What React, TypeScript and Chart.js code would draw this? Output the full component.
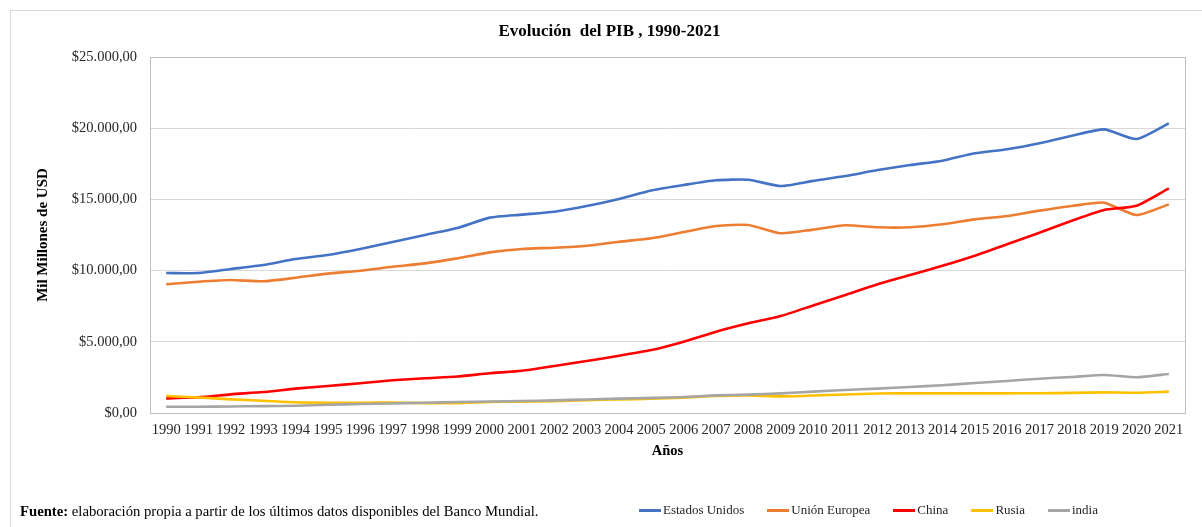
import React, { useEffect, useRef } from "react";
import { Chart, registerables } from "chart.js";

Chart.register(...registerables);

const years = [
  "1990", "1991", "1992", "1993", "1994", "1995", "1996", "1997", "1998", "1999",
  "2000", "2001", "2002", "2003", "2004", "2005", "2006", "2007", "2008", "2009",
  "2010", "2011", "2012", "2013", "2014", "2015", "2016", "2017", "2018", "2019",
  "2020", "2021",
];

const estadosUnidos = [
  9830, 9830, 10110, 10390, 10810, 11100, 11520, 12010, 12500, 12990,
  13720, 13930, 14130, 14530, 15030, 15620, 16010, 16340, 16380, 15940,
  16300, 16640, 17060, 17410, 17720, 18240, 18520, 18940, 19470, 19920,
  19240, 20340,
];

const unionEuropea = [
  9040, 9220, 9340, 9250, 9500, 9790, 9990, 10270, 10510, 10860,
  11280, 11520, 11610, 11750, 12030, 12270, 12710, 13130, 13200, 12620,
  12880, 13180, 13040, 13040, 13250, 13600, 13830, 14210, 14540, 14770,
  13900, 14650,
];

const china = [
  1030, 1110, 1310, 1470, 1710, 1900, 2090, 2300, 2440, 2560,
  2790, 2970, 3300, 3650, 4020, 4420, 5010, 5710, 6300, 6810,
  7550, 8290, 9040, 9690, 10340, 11050, 11850, 12660, 13500, 14260,
  14560, 15780,
];

const rusia = [
  1190, 1090, 960, 860, 750, 720, 720, 740, 690, 690,
  770, 800, 830, 900, 950, 1000, 1080, 1200, 1240, 1170,
  1230, 1300, 1370, 1380, 1380, 1380, 1380, 1390, 1410, 1450,
  1420, 1500,
];

const india = [
  440, 440, 460, 480, 510, 580, 630, 670, 720, 770,
  810, 840, 890, 950, 1010, 1060, 1120, 1240, 1290, 1380,
  1500, 1620, 1710, 1830, 1950, 2110, 2250, 2410, 2530, 2670,
  2510, 2740,
];

const seriesNames = ["Estados Unidos", "Unión Europea", "China", "Rusia", "india"];
const seriesColors = ["#4472C4", "#ED7D31", "#FF0000", "#FFC000", "#A5A5A5"];
const seriesValues = [estadosUnidos, unionEuropea, china, rusia, india];

const titleText = "Evolución  del PIB , 1990-2021";
const yTitle = "Mil Millones de USD";
const xTitle = "Años";
const yMin = 0;
const yMax = 25000;
const yStep = 5000;

const FONT = "'Times New Roman', 'Liberation Serif', serif";

function formatMoney(v: number): string {
  const fixed = Math.abs(v).toFixed(2);
  const [intPart, dec] = fixed.split(".");
  const grouped = intPart.replace(/\B(?=(\d{3})+(?!\d))/g, ".");
  return "$" + grouped + "," + dec;
}

const plotBorder = {
  id: "plotBorder",
  beforeDatasetsDraw(chart: any) {
    const { ctx, chartArea } = chart;
    ctx.save();
    ctx.strokeStyle = "#bfbfbf";
    ctx.lineWidth = 1;
    ctx.strokeRect(
      Math.round(chartArea.left) + 0.5,
      Math.round(chartArea.top) + 0.5,
      Math.round(chartArea.right - chartArea.left),
      Math.round(chartArea.bottom - chartArea.top)
    );
    ctx.restore();
  },
};

export default function App() {
  const canvasRef = useRef<HTMLCanvasElement | null>(null);

  useEffect(() => {
    if (!canvasRef.current) return;
    const chart = new Chart(canvasRef.current, {
      type: "line",
      data: {
        labels: years,
        datasets: seriesNames.map((name, i) => ({
          label: name,
          data: seriesValues[i],
          borderColor: seriesColors[i],
          backgroundColor: seriesColors[i],
          borderWidth: 2.6,
          pointRadius: 0,
          pointHoverRadius: 0,
          tension: 0.2,
          fill: false,
          order: seriesNames.length - i,
        })),
      },
      options: {
        responsive: false,
        animation: false,
        layout: { padding: { top: 9, right: 17, bottom: 60, left: 24 } },
        plugins: {
          legend: { display: false },
          tooltip: { enabled: false },
          title: {
            display: true,
            text: titleText,
            color: "#000000",
            font: { family: FONT, size: 17, weight: "bold" },
            padding: { top: 2, bottom: 15.6 },
          },
        },
        scales: {
          x: {
            type: "category",
            offset: true,
            grid: { display: false, drawTicks: false },
            border: { display: false },
            ticks: {
              color: "#262626",
              font: { family: FONT, size: 14.5 },
              padding: 8,
              maxRotation: 0,
              autoSkip: false,
            },
            title: {
              display: true,
              text: xTitle,
              color: "#000000",
              font: { family: FONT, size: 14.5, weight: "bold" },
              padding: { top: 0, bottom: 7.3 },
            },
            afterFit(scale: any) {
              scale.height = 54;
            },
          },
          y: {
            min: yMin,
            max: yMax,
            grid: { color: "#d9d9d9", drawTicks: false, lineWidth: 1 },
            border: { display: false },
            ticks: {
              stepSize: yStep,
              color: "#262626",
              font: { family: FONT, size: 14.5 },
              padding: 13,
              callback: (v: any) => formatMoney(Number(v)),
            },
            title: {
              display: true,
              text: yTitle,
              color: "#000000",
              font: { family: FONT, size: 15, weight: "bold" },
              padding: { top: 0, bottom: 0 },
            },
            afterFit(scale: any) {
              scale.width = 116;
            },
          },
        },
      },
      plugins: [plotBorder],
    });
    return () => chart.destroy();
  }, []);

  return (
    <div
      style={{
        position: "fixed",
        left: 0,
        top: 0,
        width: 1202,
        height: 527,
        overflow: "hidden",
        background: "#ffffff",
        fontFamily: FONT,
      }}
    >
      <div
        style={{
          position: "absolute",
          left: 10,
          top: 10,
          width: 1220,
          height: 560,
          border: "1px solid #d9d9d9",
          boxSizing: "border-box",
        }}
      />
      <canvas
        ref={canvasRef}
        width={1192}
        height={517}
        style={{ position: "absolute", left: 10, top: 10, width: 1192, height: 517 }}
      />
      <div
        style={{
          position: "absolute",
          left: 20,
          top: 502,
          fontSize: 14.7,
          lineHeight: "18px",
          color: "#000000",
          whiteSpace: "nowrap",
        }}
      >
        <b>Fuente:</b> elaboración propia a partir de los últimos datos disponibles del Banco Mundial.
      </div>
      <div
        style={{
          position: "absolute",
          left: 639,
          top: 501,
          display: "flex",
          alignItems: "center",
          gap: 23,
          fontSize: 13,
          lineHeight: "18px",
          color: "#262626",
          whiteSpace: "nowrap",
        }}
      >
        {seriesNames.map((name, i) => (
          <div key={name} style={{ display: "flex", alignItems: "center" }}>
            <span
              style={{
                display: "inline-block",
                width: 22,
                height: 3,
                background: seriesColors[i],
                marginRight: 2,
              }}
            />
            <span>{name}</span>
          </div>
        ))}
      </div>
    </div>
  );
}
